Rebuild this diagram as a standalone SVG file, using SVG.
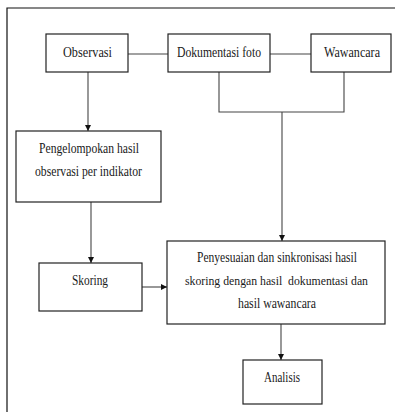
<svg xmlns="http://www.w3.org/2000/svg" width="395" height="412" viewBox="0 0 395 412">
<style>
.box{fill:#fff;stroke:#222;stroke-width:1.2}
.ln{fill:none;stroke:#444;stroke-width:1.1}
.frame{fill:none;stroke:#111;stroke-width:1.2}
text{font-family:"Liberation Serif","Times New Roman",serif;font-size:14px;fill:#1a1a1a}
.pre{white-space:pre;font-size:13px}
</style>
<defs>
<marker id="ah" viewBox="0 0 10 10" refX="10" refY="5" markerWidth="6" markerHeight="6" markerUnits="userSpaceOnUse" orient="auto">
<path d="M0,0 L10,5 L0,10 Z" fill="#111"/>
</marker>
</defs>
<rect width="395" height="412" fill="#fff"/>
<path class="frame" d="M7,412 V8 H395"/>
<g id="connectors">
<line class="ln" x1="128" y1="54" x2="168" y2="54"/>
<line class="ln" x1="270" y1="54" x2="311" y2="54"/>
<line class="ln" x1="88" y1="72" x2="88" y2="131" marker-end="url(#ah)"/>
<path class="ln" d="M219,72 V112 H344 V72"/>
<line class="ln" x1="282" y1="112" x2="282" y2="241" marker-end="url(#ah)"/>
<line class="ln" x1="91" y1="202" x2="91" y2="263" marker-end="url(#ah)"/>
<line class="ln" x1="142" y1="287" x2="167" y2="287" marker-end="url(#ah)"/>
<line class="ln" x1="281" y1="324" x2="281" y2="360" marker-end="url(#ah)"/>
</g>
<g id="observasi">
<rect class="box" x="46" y="34" width="82" height="38"/>
<text x="63" y="57" textLength="49" lengthAdjust="spacingAndGlyphs">Observasi</text>
</g>
<g id="dokumentasi">
<rect class="box" x="168" y="34" width="102" height="38"/>
<text x="177" y="57" textLength="84" lengthAdjust="spacingAndGlyphs">Dokumentasi foto</text>
</g>
<g id="wawancara">
<rect class="box" x="311" y="34" width="80" height="38"/>
<text x="324" y="57" textLength="56" lengthAdjust="spacingAndGlyphs">Wawancara</text>
</g>
<g id="pengelompokan">
<rect class="box" x="16" y="131" width="145" height="71"/>
<text x="39" y="153" textLength="100" lengthAdjust="spacingAndGlyphs">Pengelompokan hasil</text>
<text x="35" y="176" textLength="107" lengthAdjust="spacingAndGlyphs">observasi per indikator</text>
</g>
<g id="skoring">
<rect class="box" x="39" y="263" width="103" height="48"/>
<text x="72" y="285" textLength="36" lengthAdjust="spacingAndGlyphs">Skoring</text>
</g>
<g id="penyesuaian">
<rect class="box" x="167" y="241" width="218" height="83"/>
<text x="197" y="262" textLength="160" lengthAdjust="spacingAndGlyphs">Penyesuaian dan sinkronisasi hasil</text>
<text class="pre" x="185" y="285" textLength="183" lengthAdjust="spacingAndGlyphs">skoring dengan hasil  dokumentasi dan</text>
<text x="238" y="308" textLength="78" lengthAdjust="spacingAndGlyphs">hasil wawancara</text>
</g>
<g id="analisis">
<rect class="box" x="243" y="360" width="79" height="44"/>
<text x="264" y="382" textLength="36" lengthAdjust="spacingAndGlyphs">Analisis</text>
</g>
</svg>
